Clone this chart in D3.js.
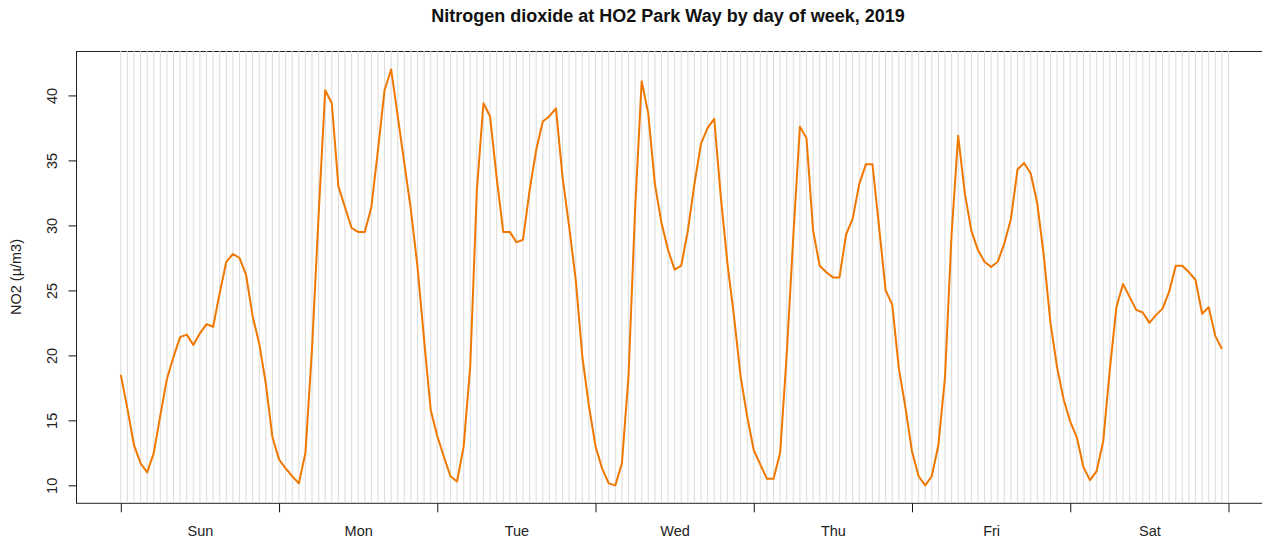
<!DOCTYPE html>
<html lang="en">
<head>
    <meta charset="UTF-8">
    <title>NO2 by day of week</title>
    <script src="https://cdn.jsdelivr.net/npm/d3@7"></script>
    <style>
        body { margin: 0; background: #fff; }
        text { font-family: "Liberation Sans", Arial, sans-serif; }
    </style>
</head>
<body>
    <svg width="1262" height="545"></svg>
</body>
</html>
<script>
   // hourly means (hour 0..23) for each day
   var days = ['Sun', 'Mon', 'Tue', 'Wed', 'Thu', 'Fri', 'Sat'];
   var sun = [18.5, 15.9, 13.1, 11.7, 11.0, 12.5, 15.4, 18.2, 19.9, 21.4, 21.6, 20.8, 21.7, 22.4, 22.2, 24.8, 27.2, 27.8, 27.5, 26.2, 23.0, 20.9, 17.8, 13.7];
   var mon = [12.0, 11.3, 10.7, 10.15, 12.5, 20.5, 30.8, 40.4, 39.4, 33.0, 31.4, 29.8, 29.5, 29.5, 31.4, 35.8, 40.4, 42.0, 38.4, 34.8, 31.2, 26.8, 21.2, 15.8];
   var tue = [13.8, 12.2, 10.7, 10.3, 13.0, 19.2, 32.7, 39.4, 38.4, 33.7, 29.5, 29.5, 28.7, 28.9, 32.7, 35.8, 38.0, 38.4, 39.0, 33.7, 29.9, 25.8, 19.9, 16.1];
   var wed = [13.0, 11.3, 10.15, 10.0, 11.7, 18.4, 31.2, 41.1, 38.6, 33.2, 30.2, 28.1, 26.6, 26.9, 29.6, 33.2, 36.3, 37.5, 38.2, 32.2, 27.1, 23.0, 18.4, 15.3];
   var thu = [12.7, 11.6, 10.5, 10.5, 12.5, 20.1, 29.2, 37.6, 36.7, 29.6, 26.9, 26.4, 26.0, 26.0, 29.3, 30.5, 33.2, 34.7, 34.7, 29.9, 25.0, 23.9, 19.0, 16.0];
   var fri = [12.6, 10.7, 10.0, 10.7, 13.1, 18.3, 29.3, 36.9, 32.5, 29.6, 28.1, 27.2, 26.8, 27.2, 28.6, 30.5, 34.3, 34.8, 34.0, 31.7, 27.6, 22.5, 19.1, 16.6];
   var sat = [14.9, 13.7, 11.4, 10.4, 11.1, 13.4, 18.9, 23.7, 25.5, 24.5, 23.5, 23.3, 22.5, 23.1, 23.6, 24.9, 26.9, 26.9, 26.4, 25.8, 23.2, 23.7, 21.5, 20.5];
   var yTicks = [10, 15, 20, 25, 30, 35, 40];

   var values = [].concat(sun, mon, tue, wed, thu, fri, sat);
   var nHours = values.length; // 168

   var svg = d3.select('svg');
   svg.append('rect').attr('width', 1262).attr('height', 545).attr('fill', '#fff');

   // r style: 4% padding around data range
   var x = d3.scaleLinear().domain([-6.72, nHours + 6.72]).range([76.5, 1272.8]);
   var y = d3.scaleLinear().domain([8.62, 43.38]).range([503.3, 51.5]);

   // plot box
   svg.append('rect')
       .attr('x', 76.5).attr('y', 51.5)
       .attr('width', 1272.8 - 76.5).attr('height', 503.3 - 51.5)
       .attr('fill', 'none').attr('stroke', '#222').attr('stroke-width', 1);

   // one grey line per hour
   svg.selectAll('line.hr')
       .data(d3.range(0, nHours + 1))
       .enter().append('line')
       .attr('class', 'hr')
       .attr('x1', function(d) { return x(d); })
       .attr('x2', function(d) { return x(d); })
       .attr('y1', 51)
       .attr('y2', 502.5)
       .attr('stroke', '#dedede')
       .attr('stroke-width', 1.1);

   // the series
   var line = d3.line()
       .x(function(d, i) { return x(i); })
       .y(function(d) { return y(d); });
   svg.append('path')
       .datum(values)
       .attr('d', line)
       .attr('fill', 'none')
       .attr('stroke', '#F07800')
       .attr('stroke-width', 2)
       .attr('stroke-linejoin', 'round');

   // y axis
   var gy = svg.append('g')
       .attr('transform', 'translate(76.5,0)')
       .call(d3.axisLeft(y).tickValues(yTicks).tickSize(8).tickFormat(d3.format('d')));
   gy.select('.domain').remove();
   gy.selectAll('.tick line').attr('stroke', '#111');
   gy.selectAll('.tick text')
       .attr('transform', 'rotate(-90)')
       .attr('x', 0).attr('y', -20).attr('dy', 0)
       .attr('text-anchor', 'middle')
       .attr('fill', '#222')
       .style('font-size', '14.5px');

   // x axis: ticks at day boundaries, labels at mid-day
   var dayStarts = d3.range(0, days.length + 1).map(function(i) { return i * 24; });
   var gx = svg.append('g')
       .attr('transform', 'translate(0,503.3)')
       .call(d3.axisBottom(x).tickValues(dayStarts).tickSize(9).tickFormat(''));
   gx.select('.domain').remove();
   gx.selectAll('.tick line').attr('stroke', '#111');

   var gl = svg.append('g')
       .attr('transform', 'translate(0,503.3)')
       .call(d3.axisBottom(x)
           .tickValues(days.map(function(d, i) { return i * 24 + 12; }))
           .tickSize(0)
           .tickFormat(function(d) { return days[(d - 12) / 24]; }));
   gl.select('.domain').remove();
   gl.selectAll('.tick text')
       .attr('y', 33).attr('dy', 0)
       .attr('fill', '#222')
       .style('font-size', '14.5px');

   // titles
   svg.append('text')
       .attr('x', 668).attr('y', 22)
       .attr('text-anchor', 'middle')
       .style('font-size', '18px').style('font-weight', 'bold')
       .attr('fill', '#111')
       .text('Nitrogen dioxide at HO2 Park Way by day of week, 2019');

   svg.append('text')
       .attr('transform', 'translate(21,277) rotate(-90)')
       .attr('text-anchor', 'middle')
       .style('font-size', '14.5px')
       .attr('fill', '#222')
       .text('NO2 (\u00b5/m3)');
</script>
